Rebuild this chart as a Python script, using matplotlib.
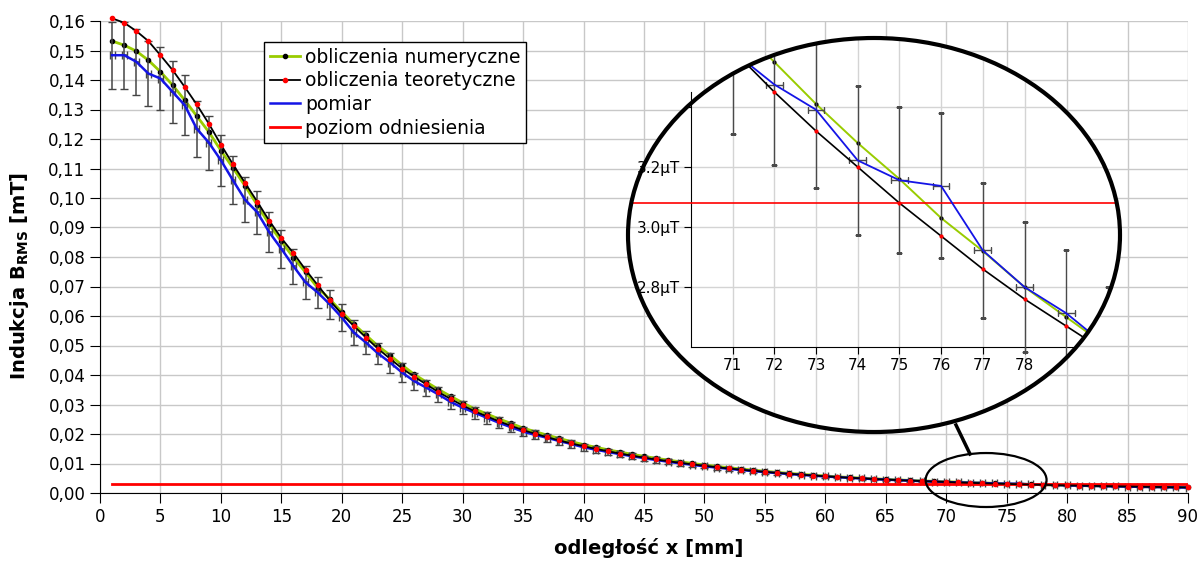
import numpy as np
import matplotlib
matplotlib.use('Agg')
import matplotlib.pyplot as plt
from matplotlib.patches import Ellipse
from matplotlib.lines import Line2D
from matplotlib.ticker import FuncFormatter, MultipleLocator

# odleglosc od zrodla [mm]
x = np.arange(1, 91)

# obliczenia teoretyczne [mT]
teoria = np.array([
    .1609, .1594, .1566, .1532, .1484, .1434, .1377, .1317, .1252, .1181,
    .1114, .1051, .0988, .0923, .0864, .0813, .0757, .0705, .0653, .0607,
    .0566, .0527, .0489, .0455, .0422, .0394, .0368, .0342, .0319, .0297,
    .0277, .0260, .0243, .0228, .0213, .0201, .0189, .0178, .0168, .01585,
    .01497, .01415, .01338, .01266, .01199, .01136, .01077, .01022, .00970, .00921,
    .00875, .00831, .00790, .00752, .00716, .00682, .00650, .00620, .00592, .00566,
    .00541, .00517, .00495, .00474, .00455, .00437, .00420, .00404, .00388, .00373,
    .00359, .00345, .00332, .00320, .00308, .00297, .00286, .00276, .00267, .00258,
    .00250, .00242, .00234, .00227, .00220, .00213, .00207, .00201, .00195, .00190])

# obliczenia numeryczne [mT]
numeryka = np.array([
    .1532, .1518, .1498, .1467, .1428, .1383, .1332, .1278, .1224, .1161,
    .1102, .1041, .0977, .0911, .0853, .0798, .0748, .0696, .0657, .0614,
    .0572, .0535, .0498, .0467, .0433, .0402, .0376, .0351, .0328, .0306,
    .0285, .0268, .0251, .0236, .0220, .0208, .0196, .0185, .0174, .0164,
    .01550, .01467, .01388, .01313, .01243, .01177, .01115, .01057, .01003, .00951,
    .00903, .00858, .00815, .00775, .00737, .00701, .00667, .00635, .00605, .00577,
    .00551, .00527, .00504, .00483, .00463, .00444, .00427, .00411, .00396, .00382,
    .00369, .00355, .00341, .00328, .00316, .00303, .00292, .00280, .00270, .00260,
    .00251, .00243, .00235, .00228, .00221, .00214, .00208, .00202, .00196, .00191])

# pomiar [mT]
pomiar = np.array([
    .1484, .1484, .1462, .1422, .1405, .1360, .1315, .1235, .1188, .1128,
    .1060, .0994, .0952, .0884, .0828, .0769, .0714, .0680, .0640, .0595,
    .0544, .0510, .0473, .0442, .0408, .0379, .0357, .0334, .0309, .0289,
    .0272, .0255, .0238, .0223, .0208, .0197, .0187, .0176, .0166, .0155,
    .01470, .01390, .01318, .01248, .01180, .01118, .01060, .01005, .00955, .00905,
    .00862, .00820, .00781, .00743, .00708, .00675, .00644, .00614, .00587, .00560,
    .00537, .00514, .00492, .00472, .00453, .00435, .00418, .00402, .00386, .00372,
    .003586, .003475, .003391, .003222, .003156, .003137, .002922, .002800, .002713, .00260,
    .00250, .00241, .00232, .00224, .00216, .00209, .00202, .00195, .00189, .00183])

poziom = 0.00308      # poziom odniesienia [mT]
blad_wzgl = 0.077     # niepewnosc wzgledna pomiaru
blad_x = 0.2          # niepewnosc polozenia [mm]

# podzialki powiekszenia
in_xt = [71, 72, 73, 74, 75, 76, 77, 78]
in_yt = [2.8, 3.0, 3.2, 3.4]
in_ytl = ['2.8μT', '3.0μT', '3.2μT', '']

zielony = '#99cc00'
niebieski = '#1414e6'
czerwony = '#ff0000'
szary = '#454545'

plt.rcParams['font.family'] = 'DejaVu Sans'
plt.rcParams['mathtext.fontset'] = 'dejavusans'

W, H = 1200, 566
fig = plt.figure(figsize=(W / 100, H / 100), dpi=100)

def fx(px):
    return px / W

def fy(py):
    return 1 - py / H

# --- wykres glowny ---
ax = fig.add_axes([fx(100), fy(493), fx(1188) - fx(100), fy(21) - fy(493)])
ax.plot(x, numeryka, color=zielony, lw=2, marker='o', ms=3, mfc='black', mec='black',
        label='obliczenia numeryczne', zorder=3, clip_on=False)
ax.errorbar(x, pomiar, yerr=blad_wzgl * pomiar, xerr=blad_x, fmt='none', ecolor=szary,
            elinewidth=1.1, capsize=3, zorder=3.5)
ax.plot(x, pomiar, color=niebieski, lw=1.8, label='pomiar', zorder=4)
ax.plot(x, teoria, color='black', lw=1.3, marker='o', ms=3, mfc=czerwony, mec=czerwony,
        label='obliczenia teoretyczne', zorder=5, clip_on=False)
ax.plot(x, np.full(len(x), poziom), color=czerwony, lw=2, label='poziom odniesienia', zorder=4)

ax.set_xlim(0, 90)
ax.set_ylim(0, 0.16)
ax.xaxis.set_major_locator(MultipleLocator(5))
ax.yaxis.set_major_locator(MultipleLocator(0.01))
ax.yaxis.set_major_formatter(FuncFormatter(lambda v, p: f'{v:.2f}'.replace('.', ',')))
ax.grid(True, color='#c8c8c8', lw=1)
ax.set_axisbelow(True)
for s in ('top', 'right'):
    ax.spines[s].set_visible(False)
ax.tick_params(direction='out', length=7, labelsize=12, colors='black')

ax.set_xlabel('odległość x [mm]', fontsize=14, fontweight='bold')
ax.set_ylabel(r'Indukcja B$_{\mathbf{RMS}}$ [mT]', fontsize=14, fontweight='bold')
ax.xaxis.set_label_coords(0.504, -0.095)
ax.yaxis.set_label_coords(-0.063, 0.46)

h = ax.get_legend_handles_labels()
order = ['obliczenia numeryczne', 'obliczenia teoretyczne', 'pomiar', 'poziom odniesienia']
hd = dict(zip(h[1], h[0]))
leg = ax.legend([hd[k] for k in order], order, loc='upper left',
                bbox_to_anchor=((264 - 100) / 1088, (493 - 42) / 472),
                fontsize=13.5, frameon=True, fancybox=False, framealpha=1,
                edgecolor='black', borderpad=0.3, labelspacing=0.25,
                handlelength=1.6, handletextpad=0.3, borderaxespad=0)
leg.get_frame().set_linewidth(1)
leg.set_zorder(7)

# male kolko na wykresie glownym
ax.add_patch(Ellipse((73.3, 0.0044), 10.0, 0.0183, fill=False, edgecolor='black',
                     lw=1.6, clip_on=False, zorder=6))

# --- powiekszenie ---
axin = fig.add_axes([fx(628), fy(432), fx(1120) - fx(628), fy(38) - fy(432)])
axin.set_xlim(68.49, 80.29)
axin.set_ylim(2.317, 3.63)
axin.patch.set_visible(False)
tlo = Ellipse((0.5, 0.5), 1, 1, transform=axin.transAxes, facecolor='white',
              edgecolor='none', zorder=0)
axin.add_patch(tlo)

art = []
# siatka powiekszenia
art.append(axin.vlines(in_xt, 2.0, 4.0, color='#d4d4d4', lw=1, zorder=1))
art.append(axin.hlines(in_yt, 60, 90, color='#d4d4d4', lw=1, zorder=1))
art += axin.plot(x, numeryka * 1000, color=zielony, lw=1.4, marker='o', ms=2,
                 mfc='black', mec='black', zorder=3)
art += axin.plot(x, teoria * 1000, color='black', lw=1.2, marker='o', ms=2,
                 mfc=czerwony, mec=czerwony, zorder=4)
eb = axin.errorbar(x, pomiar * 1000, yerr=blad_wzgl * pomiar * 1000, xerr=blad_x,
                   fmt='none', ecolor='#4a4a4a', elinewidth=1, capsize=2.5, zorder=3.5)
art += list(eb.lines[1]) + list(eb.lines[2])
art += axin.plot(x, pomiar * 1000, color=niebieski, lw=1.3, zorder=5)
art += axin.plot(x, np.full(len(x), poziom * 1000), color=czerwony, lw=1.2, zorder=4)
for a in art:
    a.set_clip_path(tlo)

axin.set_xticks(in_xt)
axin.set_yticks(in_yt)
axin.set_yticklabels(in_ytl)
axin.tick_params(direction='out', length=5, labelsize=11, colors='black', pad=3)
for s in ('top', 'right'):
    axin.spines[s].set_visible(False)
axin.spines['left'].set_position(('data', 70))
axin.spines['left'].set_bounds(2.6, 3.45)
axin.spines['bottom'].set_position(('data', 2.6))
axin.spines['bottom'].set_bounds(70, 80.3)
axin.spines['bottom'].set_clip_path(tlo)

axin.add_patch(Ellipse((0.5, 0.5), 1, 1, transform=axin.transAxes, fill=False,
                       edgecolor='black', lw=3, zorder=10, clip_on=False))

# kreska laczaca
fig.add_artist(Line2D([fx(956), fx(970)], [fy(425), fy(454)], color='black', lw=2.5))

fig.savefig('out.png', dpi=100)
